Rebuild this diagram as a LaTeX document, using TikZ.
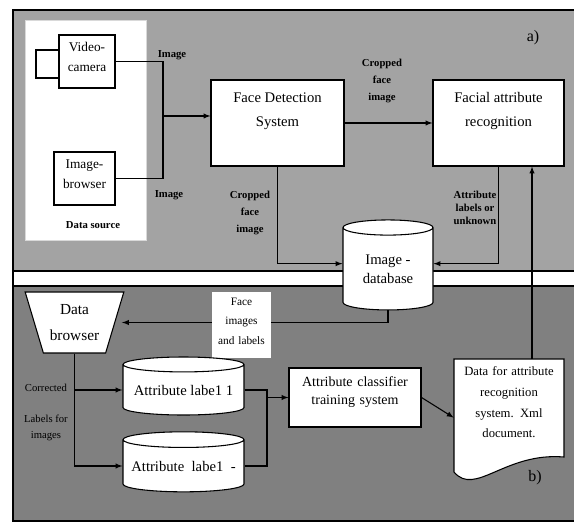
\documentclass[tikz,border=0pt]{standalone}
\usepackage{fontspec}
\setmainfont{Liberation Serif}
\usetikzlibrary{positioning, shapes.geometric, fit}

\tikzset{
	box/.style={draw, fill=white, line width=0.8pt, inner sep=0pt},
	cyl/.style={cylinder, shape border rotate=90, draw, fill=white, line width=0.8pt, align=center, inner sep=0pt},
	tag/.style={font=\fontsize{8}{13}\selectfont\bfseries, align=center},
	note/.style={font=\fontsize{8}{12.5}\selectfont, align=center},
	link/.style={line width=0.8pt},
	arrow/.style={line width=0.8pt, -latex},
}

\begin{document}
\begin{tikzpicture}[x=0.75pt, y=-0.75pt]
			\useasboundingbox (0,0) rectangle (574,523);
			\clip (0,0) rectangle (574,523);
			% Panels a) and b)
			\fill[black!36] (13,10) rectangle (590,271);
			\fill[white] (13,271) rectangle (590,286);
			\fill[black!50] (13,286) rectangle (590,521);
			\draw[line width=1.3pt] (590,10) -- (13,10) -- (13,521) -- (590,521);
			\draw[line width=1.1pt] (13,271) -- (590,271) (13,286) -- (590,286);
			\node[font=\fontsize{12}{14}\selectfont] (parta) at (533,38) {a)};
			\node[font=\fontsize{12}{14}\selectfont] (partb) at (535,478) {b)};
			% Data source
			\node[fill=white, draw=black!15, inner sep=0pt, fit={(25,20) (146,240)}] (source) {};
			\node[tag] (sourcelabel) at (93,225) {Data source};
			\node[box, fit={(36,50) (59,78)}] (lens) {};
			\node[box, fit={(59,35) (115,88)}, font=\fontsize{10}{15}\selectfont, align=center] (camera) {Video-\\camera};
			\node[box, fit={(54,152) (115,205)}, font=\fontsize{10}{15}\selectfont, align=center] (imgbrowser) {Image-\\browser};
			\coordinate (merge) at (163,116);
			\draw[link] (camera.east) -| (merge);
			\draw[link] (imgbrowser.east) -| (merge);
			\node[tag] (imagetop) at (172,55) {Image};
			\node[tag] (imagebot) at (169,195) {Image};
			% Face detection and recognition
			\node[box, fit={(211,80) (344,166)}] (fds) {};
			\node[font=\fontsize{11}{18}\selectfont, align=center] (fdstext) at (277.5,111) {Face Detection\\System};
			\node[box, fit={(433,80) (564,166)}] (far) {};
			\node[font=\fontsize{11}{18}\selectfont, align=center] (fartext) at (498.5,111) {Facial attribute\\recognition};
			\draw[arrow] (merge) -- (merge -| fds.west);
			\draw[arrow] (fds) -- (far);
			\node[tag] (cropup) at (382,81) {Cropped\\face\\image};
			% Image database
			\node[cyl, minimum width=67.5pt, minimum height=67.5pt, aspect=0.3, font=\fontsize{11}{14}\selectfont] (imgdb) at (388,269) {Image -\\database};
			\draw[arrow] (fds.south) |- ([yshift=4pt]imgdb.west);
			\draw[arrow] (far.south) |- ([yshift=4pt]imgdb.east);
			\node[tag] (cropdown) at (250,213) {Cropped\\face\\image};
			\node[tag, font=\fontsize{8}{10}\selectfont\bfseries] (attrlabels) at (475,208) {Attribute\\labels or\\unknown};
			% Data browser
			\node[trapezium, shape border rotate=180, trapezium stretches=true, trapezium angle=69, draw, fill=white, line width=0.8pt, minimum width=74.25pt, minimum height=45.75pt, font=\fontsize{11.5}{19}\selectfont, align=center] (databrowser) at (74.5,322.5) {Data\\browser};
			\draw[arrow, shorten >=5pt] (imgdb.south) |- (databrowser.east);
			\node[fill=white, inner sep=0pt, fit={(212,292) (271,358)}, font=\fontsize{8.5}{14.5}\selectfont, align=center] (faceimages) {Face\\images\\and labels};
			% Attribute labels
			\node[cyl, minimum width=90.75pt, minimum height=43.5pt, aspect=0.15, font=\fontsize{11}{14}\selectfont] (label1) at (183.5,390) {Attribute labe1 1};
			\node[cyl, minimum width=90.75pt, minimum height=45pt, aspect=0.15, font=\fontsize{11}{14}\selectfont] (label2) at (183.5,466) {Attribute\ \ labe1\ \ -};
			\draw[arrow] (databrowser.south) |- (label1.west);
			\draw[arrow] (databrowser.south) |- (label2.west);
			\node[note] (corrected) at (46,388) {Corrected};
			\node[note] (labelsfor) at (46,428) {Labels for\\images};
			% Classifier training
			\node[box, fit={(289,368) (421,427)}, font=\fontsize{10.5}{13.5}\selectfont, align=center] (trainer) {Attribute classifier\\training system};
			\coordinate (join) at (267,397.5);
			\draw[link] (label1.east) -- (label1.east -| join) -- (label2.east -| join) -- (label2.east);
			\draw[arrow] (join) -- (trainer.west);
			% Xml document
			\filldraw[fill=white, line width=0.8pt] (564,457) -- (564,359) -- (454,359) -- (454,472) .. controls (475,497) and (505,452) .. (564,457) -- cycle;
			\node[inner sep=0pt, fit={(454,359) (564,455)}, font=\fontsize{9.5}{15.5}\selectfont, align=center] (doc) {Data for attribute\\recognition\\system. Xml\\document.};
			\draw[arrow] (trainer.east) -- ([yshift=-8pt]doc.west);
			\draw[arrow] ([xshift=17.25pt]doc.north) -- ([xshift=17.25pt]doc.north |- far.south);
\end{tikzpicture}
\end{document}
